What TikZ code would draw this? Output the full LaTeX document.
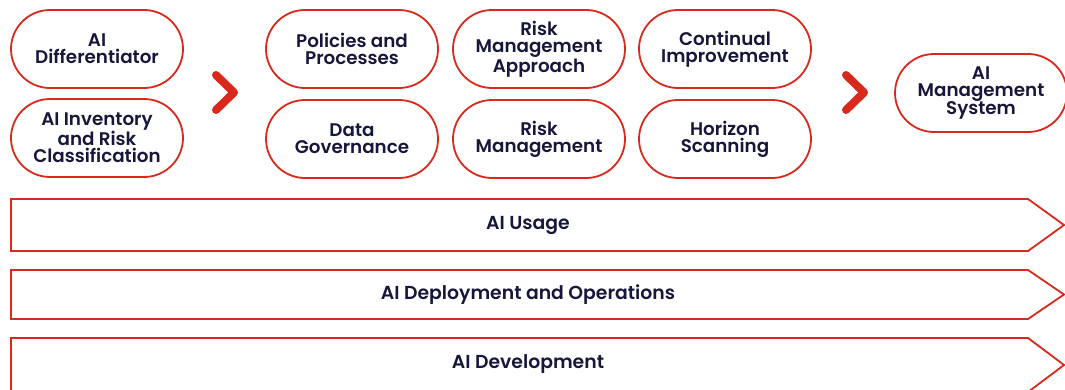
\documentclass[tikz,border=0pt]{standalone}
\usepackage{xcolor}
\usepackage{fontspec}
\setmainfont{Poppins}[BoldFont={Poppins SemiBold}]
\definecolor{brandRed}{HTML}{D9291C}
\definecolor{brandNavy}{HTML}{16173A}

\begin{document}
\begin{tikzpicture}
[x=1pt, y=-1pt,
 pillDecorate/.style={shape=rectangle, draw=brandRed, line width=1.8pt, rounded corners=39pt, minimum width=172pt, minimum height=78pt, inner sep=0pt, align=center, text=brandNavy, font=\fontsize{18.3}{17}\selectfont\bfseries},
 bannerDecorate/.style={draw=brandRed, line width=1.8pt},
 textDecorate/.style={text=brandNavy, inner sep=0pt, font=\fontsize{18.8}{17}\selectfont\bfseries},
 chevronDecorate/.style={draw=brandRed, line width=8pt, line cap=round, line join=round}]

 \useasboundingbox (0,0) rectangle (1065,389);

 \node (PDiff) at (97,49) [pillDecorate] {AI\\Differentiator};
 \node (PInv) at (97,138) [pillDecorate] {AI Inventory\\and Risk\\Classification};
 \node (PPol) at (352,49) [pillDecorate] {Policies and\\Processes};
 \node (PAppr) at (539,49) [pillDecorate] {Risk\\Management\\Approach};
 \node (PCont) at (725,49) [pillDecorate] {Continual\\Improvement};
 \node (PData) at (352,139) [pillDecorate] {Data\\Governance};
 \node (PRisk) at (539,139) [pillDecorate] {Risk\\Management};
 \node (PHor) at (725,139) [pillDecorate] {Horizon\\Scanning};
 \node (PSys) at (981,93) [pillDecorate] {AI\\Management\\System};

 % layer banners
 \draw[bannerDecorate] (11,199) -- (1028,199) -- (1064,225) -- (1028,251) -- (11,251) -- cycle;
 \node (BUsage) at (528,225) [textDecorate] {AI Usage};
 \draw[bannerDecorate] (11,270) -- (1028,270) -- (1064,294.5) -- (1028,319) -- (11,319) -- cycle;
 \node (BOps) at (528,294.5) [textDecorate] {AI Deployment and Operations};
 \draw[bannerDecorate] (11,338) -- (1028,338) -- (1064,365) -- (1028,392) -- (11,392) -- cycle;
 \node (BDev) at (528,364) [textDecorate] {AI Development};

 % chevrons between the columns
 \draw[chevronDecorate] (216,75) -- (234,92.5) -- (216,110);
 \draw[chevronDecorate] (846,75) -- (864,92.5) -- (846,110);

\end{tikzpicture}
\end{document}
